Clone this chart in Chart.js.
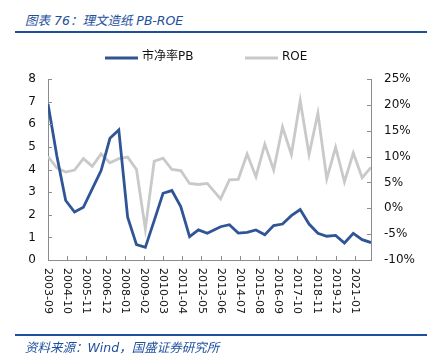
<!DOCTYPE html>
<html>
<head>
<meta charset="utf-8">
<script src="https://cdn.jsdelivr.net/npm/chart.js@4"></script>
<style>
  body{margin:0;background:#fff;}
  #wrap{position:relative;width:427px;height:359px;overflow:hidden;}
  #c{position:absolute;left:0;top:0;}
  .cap{position:absolute;left:25px;font:italic 12.5px "DejaVu Sans","Noto Sans CJK SC",sans-serif;color:#1E4F9C;white-space:nowrap;}
  .rule{position:absolute;left:15px;right:0;height:2px;background:#1E4F9C;}
</style>
</head>
<body>
<div id="wrap">
  <div class="cap" style="top:10px;">图表 76：理文造纸 PB-ROE</div>
  <div class="rule" style="top:31px;"></div>
  <canvas id="c" width="427" height="359"></canvas>
  <div class="rule" style="top:334px;"></div>
  <div class="cap" style="top:337px;">资料来源：Wind，国盛证券研究所</div>
</div>
<script>
// 日期（半年一个点）
const dates=['2003-09','2004-03','2004-09','2005-03','2005-09','2006-03','2006-09','2007-03','2007-09','2008-03',
  '2008-09','2009-03','2009-09','2010-03','2010-09','2011-03','2011-09','2012-03','2012-09','2013-06',
  '2013-12','2014-06','2014-12','2015-06','2015-12','2016-06','2016-12','2017-06','2017-12','2018-06',
  '2018-12','2019-06','2019-12','2020-06','2020-12','2021-06','2021-12'];
// 市净率PB（左轴）
const pbValues=[6.90,4.60,2.63,2.12,2.33,3.14,3.95,5.38,5.75,1.89,
  0.68,0.56,1.74,2.95,3.07,2.36,1.03,1.33,1.18,1.47,
  1.56,1.19,1.22,1.33,1.12,1.52,1.59,1.96,2.23,1.59,
  1.18,1.05,1.09,0.75,1.18,0.90,0.77];
// ROE %（右轴）
const roeValues=[10.0,7.8,7.0,7.4,9.6,8.1,10.5,8.8,9.6,9.9,
  7.5,-4.0,9.1,9.7,7.5,7.3,4.8,4.6,4.8,1.8,
  5.5,5.6,10.5,6.1,12.4,7.4,15.7,10.4,20.8,10.4,
  18.4,5.7,11.8,5.1,10.7,5.9,7.9];
// x轴刻度标签
const tickLabels=['2003-09','2004-10','2005-11','2006-12','2008-01','2009-02','2010-03','2011-04','2012-05',
  '2013-06','2014-07','2015-08','2016-09','2017-10','2018-11','2019-12','2021-01'];

const BLUE='#2F5597';
const GREY='#C9C9C9';
const AXIS='#8C8C8C';
const FONT='"DejaVu Sans","Noto Sans CJK SC",sans-serif';

// 月份序号（以第一个日期为0）
const base=dates[0].split('-').map(Number);
function monthIdx(s){
  const p=s.split('-').map(Number);
  return (p[0]-base[0])*12+(p[1]-base[1]);
}

// 刻度线朝内 + 竖排日期标签 + 图例
const decor={
  id:'decor',
  afterDraw(chart){
    const c=chart.ctx, a=chart.chartArea;
    const sx=chart.scales.x, yl=chart.scales.y, yr=chart.scales.y1;
    c.save();
    c.strokeStyle=AXIS; c.lineWidth=1;
    c.beginPath();
    sx.ticks.forEach(t=>{const x=Math.round(sx.getPixelForValue(t.value))+0.5;c.moveTo(x,a.bottom);c.lineTo(x,a.bottom-4);});
    yl.ticks.forEach(t=>{const y=Math.round(yl.getPixelForValue(t.value))+0.5;c.moveTo(a.left,y);c.lineTo(a.left+4,y);});
    yr.ticks.forEach(t=>{const y=Math.round(yr.getPixelForValue(t.value))+0.5;c.moveTo(a.right,y);c.lineTo(a.right-4,y);});
    c.stroke();
    // x标签顺时针旋转90度
    c.fillStyle='#111';
    c.font='11px '+FONT;
    c.textAlign='left'; c.textBaseline='middle';
    tickLabels.forEach(l=>{
      const x=sx.getPixelForValue(monthIdx(l));
      c.save(); c.translate(x,a.bottom+8); c.rotate(Math.PI/2); c.fillText(l,0,0); c.restore();
    });
    // 图例
    const items=[[105,chart.data.datasets[0]],[245,chart.data.datasets[1]]];
    c.font='12px '+FONT; c.textBaseline='middle';
    items.forEach(([x,ds])=>{
      c.strokeStyle=ds.borderColor; c.lineWidth=3;
      c.beginPath(); c.moveTo(x,58); c.lineTo(x+33,58); c.stroke();
      c.fillStyle='#111'; c.fillText(ds.label,x+37,57);
    });
    c.restore();
  }
};

new Chart(document.getElementById('c'),{
  type:'line',
  data:{
    datasets:[
      {label:'市净率PB',data:dates.map((d,i)=>({x:monthIdx(d),y:pbValues[i]})),yAxisID:'y',
        borderColor:BLUE,backgroundColor:BLUE,borderWidth:2.8,pointRadius:0,tension:0,order:1},
      {label:'ROE',data:dates.map((d,i)=>({x:monthIdx(d),y:roeValues[i]})),yAxisID:'y1',
        borderColor:GREY,backgroundColor:GREY,borderWidth:2.8,pointRadius:0,tension:0,order:2}
    ]
  },
  options:{
    responsive:false,
    animation:false,
    layout:{padding:{top:79,left:0,right:0,bottom:0}},
    plugins:{legend:{display:false},tooltip:{enabled:false}},
    scales:{
      x:{
        type:'linear',min:0,max:monthIdx(dates[dates.length-1]),
        afterBuildTicks(s){s.ticks=tickLabels.map(l=>({value:monthIdx(l)}));},
        afterFit(s){s.height=99;},
        ticks:{display:false},
        grid:{display:false,drawTicks:false},
        border:{display:true,color:AXIS,width:1}
      },
      y:{
        position:'left',min:0,max:8,
        afterFit(s){s.width=48;},
        ticks:{stepSize:1,padding:12,color:'#111',font:{family:FONT,size:12}},
        grid:{display:false,drawTicks:false},
        border:{display:true,color:AXIS,width:1}
      },
      y1:{
        position:'right',min:-10,max:25,
        afterFit(s){s.width=56;},
        ticks:{stepSize:5,padding:13,color:'#111',font:{family:FONT,size:12},callback:v=>v+'%'},
        grid:{display:false,drawTicks:false},
        border:{display:true,color:AXIS,width:1}
      }
    }
  },
  plugins:[decor]
});
</script>
</body>
</html>
